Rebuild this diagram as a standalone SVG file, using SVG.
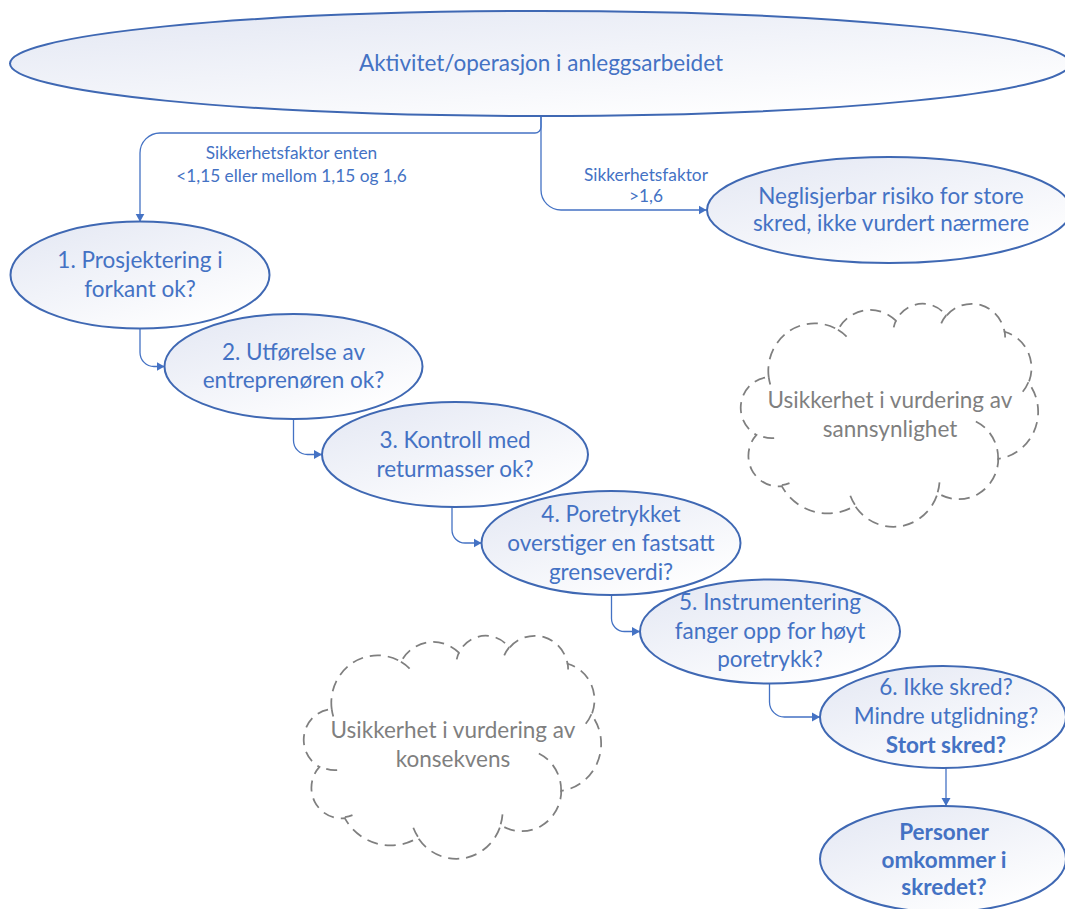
<svg xmlns="http://www.w3.org/2000/svg" width="1065" height="909" viewBox="0 0 1065 909">
<defs>
<linearGradient id="g" x1="0" y1="0" x2="0.75" y2="1">
<stop offset="0" stop-color="#e3e7f3"/>
<stop offset="1" stop-color="#ffffff"/>
</linearGradient>
<marker id="arr" markerUnits="userSpaceOnUse" markerWidth="9" markerHeight="10" refX="8" refY="4.5" orient="auto" viewBox="0 0 9 9">
<path d="M0,0 L8,4.5 L0,9 Z" fill="#4472c4"/>
</marker>
<g id="cloudShape">
<path d="M26.72,74.18 A46.27,47.44 0 0 1 95.96,26.85 A36.54,37.51 0 0 1 153.87,17.72 A29.91,30.69 0 0 1 204.41,12.80 A33.28,34.04 0 0 1 262.55,28.78 A36.54,37.54 0 0 1 286.54,79.81 A46.42,47.59 0 0 1 256.29,155.91 A39.64,40.61 0 0 1 195.66,190.03 A46.26,47.57 0 0 1 112.93,202.70 A52.90,54.42 0 0 1 39.78,183.12 A29.87,30.55 0 0 1 14.48,131.90 A29.77,30.69 0 0 1 26.72,74.18 Z"/>
<path d="M32.16,135.13 A29.77,30.69 0 0 1 14.80,131.01 M47.47,180.15 A29.87,30.55 0 0 1 39.88,182.12 M112.90,201.79 A46.26,47.57 0 0 1 108.31,192.78 M197.52,179.39 A46.26,47.57 0 0 1 195.69,189.24 M233.85,118.49 A39.64,40.61 0 0 1 255.98,158.53 M286.39,79.26 A36.54,37.54 0 0 1 276.47,93.07 M262.59,28.01 A33.28,34.04 0 0 1 263.11,34.53 M199.24,20.40 A33.28,34.04 0 0 1 204.32,12.08 M151.71,24.36 A29.91,30.69 0 0 1 154.17,17.19 M95.93,26.80 A46.27,47.44 0 0 1 104.83,33.76 M28.28,81.50 A46.27,47.44 0 0 1 26.72,74.18"/>
</g>
</defs>
<style>
.node ellipse{fill:url(#g);stroke:#3f68b3;stroke-width:2}
text{font-family:Lato,"Liberation Sans",sans-serif;font-size:22.5px;fill:#4472c4;text-anchor:middle}
.b{font-weight:bold}
.lbl{font-size:17.3px}
.conn path{fill:none;stroke:#4472c4;stroke-width:1.3}
.arrow{marker-end:url(#arr)}
.cloud{fill:none;stroke:#7f7f7f;stroke-width:1.75;stroke-dasharray:11 7}
.ct{fill:#7f7f7f}
</style>
<rect width="1065" height="909" fill="#ffffff"/>

<g id="connectors" class="conn">
<path class="arrow" d="M541,116 V127 A6,6 0 0 1 535,133 H160 A20,20 0 0 0 140,153 V221.7"/>
<path class="arrow" d="M541,116 V190 A20,20 0 0 0 561,210 H706.5"/>
<path class="arrow" d="M140,328.5 V352.5 A14,14 0 0 0 154,366.5 H164.5"/>
<path class="arrow" d="M293.5,419 V440.5 A14,14 0 0 0 307.5,454.5 H322"/>
<path class="arrow" d="M452,507 V530 A13,13 0 0 0 465,543 H481.5"/>
<path class="arrow" d="M611.5,595 V618.5 A13,13 0 0 0 624.5,631.5 H640"/>
<path class="arrow" d="M769.5,683.5 V702 A15,15 0 0 0 784.5,717 H820"/>
<path class="arrow" d="M946,768 V806"/>
<text class="lbl" x="291.5" y="159.3">Sikkerhetsfaktor enten</text>
<text class="lbl" x="291.5" y="181.7">&lt;1,15 eller mellom 1,15 og 1,6</text>
<text class="lbl" x="646" y="180.7">Sikkerhetsfaktor</text>
<text class="lbl" x="646" y="201.7">&gt;1,6</text>
</g>

<g id="top" class="node">
<ellipse cx="540" cy="63.5" rx="530" ry="52.5"/>
<text x="541" y="71">Aktivitet/operasjon i anleggsarbeidet</text>
</g>
<g id="neglisjerbar" class="node">
<ellipse cx="889" cy="210" rx="182" ry="53"/>
<text x="891" y="203.5">Neglisjerbar risiko for store</text>
<text x="891" y="231">skred, ikke vurdert nærmere</text>
</g>
<g id="n1" class="node">
<ellipse cx="140" cy="275" rx="129.5" ry="53.5"/>
<text x="140" y="268">1. Prosjektering i</text>
<text x="140" y="296.7">forkant ok?</text>
</g>
<g id="n2" class="node">
<ellipse cx="293.5" cy="366.5" rx="129" ry="52.5"/>
<text x="293.5" y="360">2. Utførelse av</text>
<text x="293.5" y="388.3">entreprenøren ok?</text>
</g>
<g id="n3" class="node">
<ellipse cx="455" cy="454.5" rx="133" ry="52.5"/>
<text x="455" y="447.7">3. Kontroll med</text>
<text x="455" y="476.7">returmasser ok?</text>
</g>
<g id="n4" class="node">
<ellipse cx="611" cy="543" rx="129.5" ry="52"/>
<text x="611" y="521.7">4. Poretrykket</text>
<text x="611" y="550.5">overstiger en fastsatt</text>
<text x="611" y="579.5">grenseverdi?</text>
</g>
<g id="n5" class="node">
<ellipse cx="770" cy="631.5" rx="130" ry="52"/>
<text x="770" y="610">5. Instrumentering</text>
<text x="770" y="638.5">fanger opp for høyt</text>
<text x="770" y="667">poretrykk?</text>
</g>
<g id="n6" class="node">
<ellipse cx="943" cy="717" rx="123" ry="51"/>
<text x="946" y="695">6. Ikke skred?</text>
<text x="946" y="724">Mindre utglidning?</text>
<text class="b" x="946" y="753">Stort skred?</text>
</g>
<g id="n7" class="node">
<ellipse cx="943" cy="859" rx="123" ry="53"/>
<text class="b" x="944" y="840">Personer</text>
<text class="b" x="944" y="867.5">omkommer i</text>
<text class="b" x="944" y="895">skredet?</text>
</g>

<g id="cloud-sannsynlighet">
<use href="#cloudShape" class="cloud" transform="translate(742,303)"/>
<text class="ct" x="890" y="408">Usikkerhet i vurdering av</text>
<text class="ct" x="890" y="437">sannsynlighet</text>
</g>
<g id="cloud-konsekvens">
<use href="#cloudShape" class="cloud" transform="translate(305,635)"/>
<text class="ct" x="453" y="738">Usikkerhet i vurdering av</text>
<text class="ct" x="453" y="767">konsekvens</text>
</g>
</svg>
